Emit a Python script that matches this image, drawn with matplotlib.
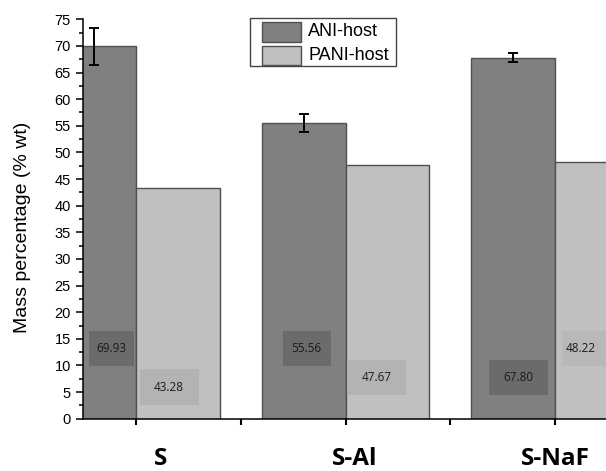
import matplotlib
matplotlib.use("Agg")
import matplotlib.pyplot as plt
from matplotlib.patches import Rectangle
from matplotlib.ticker import MultipleLocator

# ---- data ----
categories = ["S", "S-Al", "S-NaF"]
ani_host = [69.93, 55.56, 67.80]
ani_err = [3.45, 1.7, 0.85]
pani_host = [43.28, 47.67, 48.22]
series_names = ["ANI-host", "PANI-host"]
value_labels = ["69.93", "43.28", "55.56", "47.67", "67.80", "48.22"]

W, H = 606, 471
fig = plt.figure(figsize=(W / 100, H / 100), dpi=100)
ax_left, ax_bottom, ax_top = 83.3, 418.7, 19.3
ax = fig.add_axes([ax_left / W, (H - ax_bottom) / H, (W - ax_left) / W, (ax_bottom - ax_top) / H])


def fx(px):
    return px / W


def fy(py):
    return 1 - py / H


arial = "Liberation Sans"
pos = [1, 2, 3]
bw = 0.4
dark, light = "#808080", "#c0c0c0"
edge = "#505050"

b1 = ax.bar([p - bw / 2 for p in pos], ani_host, width=bw, color=dark, edgecolor=edge,
            linewidth=1, label=series_names[0], zorder=2)
b2 = ax.bar([p + bw / 2 for p in pos], pani_host, width=bw, color=light, edgecolor=edge,
            linewidth=1, label=series_names[1], zorder=2)
ax.errorbar([p - bw / 2 for p in pos], ani_host, yerr=ani_err, fmt="none", ecolor="black",
            elinewidth=1.4, capsize=3.3, capthick=1.4, zorder=4)

# value boxes (annotation positions in data coords)
boxes = [
    (0.774, 9.9, 0.217, 6.65, "#6b6b6b", 0.882, 13.1),
    (1.021, 2.6, 0.279, 6.65, "#b3b3b3", 1.158, 5.8),
    (1.702, 9.9, 0.229, 6.65, "#6b6b6b", 1.814, 13.1),
    (2.009, 4.45, 0.281, 6.65, "#b3b3b3", 2.148, 7.7),
    (2.687, 4.45, 0.280, 6.65, "#6b6b6b", 2.827, 7.7),
    (3.031, 9.9, 0.28, 6.65, "#b8b8b8", 3.124, 13.1),
]
for (x0, y0, w, h, c, tx, ty), lab in zip(boxes, value_labels):
    ax.add_patch(Rectangle((x0, y0), w, h, facecolor=c, edgecolor="none", zorder=3))
    ax.text(tx, ty, lab, ha="center", va="center", fontsize=8.5, family="Open Sans",
            color="#1a1a1a", zorder=5)

ax.set_xlim(0.7485, 3.243)
ax.set_ylim(0, 75)
ax.spines["top"].set_visible(False)
ax.spines["right"].set_visible(False)
ax.spines["left"].set_linewidth(1.1)
ax.spines["bottom"].set_linewidth(1.1)

ax.yaxis.set_major_locator(MultipleLocator(5))
ax.yaxis.set_minor_locator(MultipleLocator(2.5))
ax.tick_params(axis="y", which="major", direction="out", length=5, width=1.1, pad=4,
               labelsize=10.5)
ax.tick_params(axis="y", which="minor", direction="out", length=3, width=1.1)
for t in ax.get_yticklabels():
    t.set_family(arial)
ax.set_xticks([1, 1.5, 2, 2.5, 3])
ax.set_xticklabels([])
ax.tick_params(axis="x", which="major", direction="out", length=4, width=1.5)

fig.text(fx(23), fy(227), "Mass percentage (% wt)", rotation=90, ha="center",
         va="center", fontsize=14, family=arial)

label_x = [161, 354.5, 555]
for lx, cat in zip(label_x, categories):
    fig.text(fx(lx), fy(459), cat, ha="center", va="center", fontsize=17.5,
             fontweight="bold", family="Open Sans")

# legend drawn in figure pixel layout
fig.patches.append(Rectangle((fx(250), fy(66)), fx(146), 48 / H, transform=fig.transFigure,
                             facecolor="white", edgecolor="#444444", linewidth=1, zorder=10))
for (py0, py1, ty), name, col in zip([(22, 42, 32), (46, 65, 55.5)], series_names, [dark, light]):
    fig.patches.append(Rectangle((fx(262), fy(py1)), fx(39), (py1 - py0) / H,
                                 transform=fig.transFigure, facecolor=col, edgecolor=edge,
                                 linewidth=1, zorder=11))
    fig.text(fx(308), fy(ty), name, ha="left", va="center", fontsize=13, family=arial,
             zorder=12)

fig.savefig("out.png", dpi=100)
